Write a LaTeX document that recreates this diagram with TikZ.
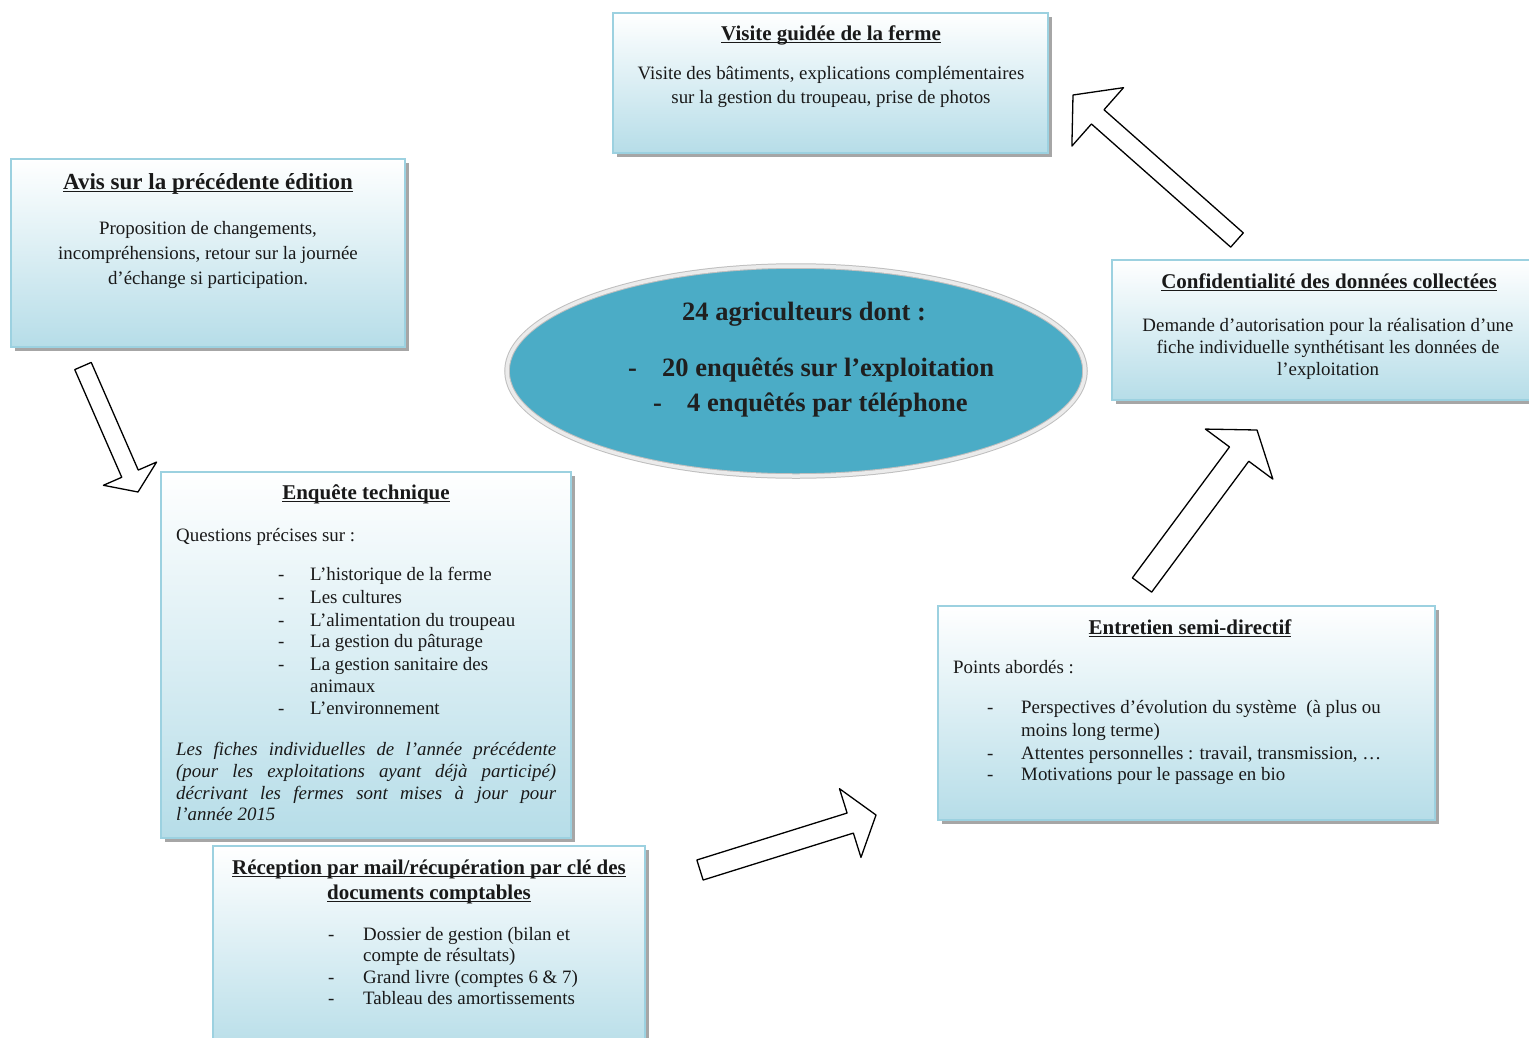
\documentclass[tikz,border=0pt]{standalone}
\usepackage{fontspec}
\setmainfont{Liberation Serif}
\usetikzlibrary{calc,shadows,shapes.geometric}
\definecolor{boxbot}{HTML}{B6DDE8}
\definecolor{boxline}{HTML}{9CD1E0}
\definecolor{ellfill}{HTML}{4BACC6}
\newcommand\ulx[1]{\setbox0\hbox{#1}\rlap{\rule[-3.4pt]{\wd0}{1.5pt}}\box0}
\newcommand\blockarrow[5]{%
  \coordinate (hb) at ($(#2)!#5!(#1)$);
  \draw[arrowline] ($(#1)!#3!90:(#2)$) -- ($(hb)!#3!-90:(#1)$) -- ($(hb)!#4!-90:(#1)$)
    -- (#2) -- ($(hb)!#4!90:(#1)$) -- ($(hb)!#3!90:(#1)$) -- ($(#1)!#3!-90:(#2)$) -- cycle;}
\tikzset{
  infobox/.style={draw=boxline, line width=1.4pt, top color=white, bottom color=boxbot,
    inner sep=0pt, drop shadow={shadow xshift=3.5pt, shadow yshift=-3.5pt, fill=black!35, opacity=1}},
  ttl/.style={font=\fontsize{21}{24}\selectfont\bfseries, anchor=base, inner sep=0pt, text=black!90},
  bdy/.style={font=\fontsize{18.9}{22}\selectfont, anchor=base, inner sep=0pt, text=black!90},
  bdyl/.style={bdy, anchor=base west},
  itl/.style={bdyl, font=\fontsize{18.9}{22}\selectfont\itshape},
  ell/.style={font=\fontsize{26.5}{30}\selectfont\bfseries, anchor=base, inner sep=0pt, text=black!88},
  elll/.style={ell, anchor=base west},
  arrowline/.style={draw=black, line width=1.3pt, fill=white, line join=round},
}
\begin{document}
\begin{tikzpicture}[x=1pt,y=-1pt]
\useasboundingbox (0,0) rectangle (1529,1037);
\begin{scope}
\clip (0,0) rectangle (1529,1037);

% boxes
\node[infobox, minimum width=435pt, minimum height=140pt] (visite) at (830.5,83) {};
\node[infobox, minimum width=394pt, minimum height=188pt] (avis) at (208,253) {};
\node[infobox, minimum width=434pt, minimum height=140pt] (conf) at (1329,330) {};
\node[infobox, minimum width=410pt, minimum height=366pt] (enq) at (366,655) {};
\node[infobox, minimum width=432pt, minimum height=210pt] (recep) at (429,951) {};
\node[infobox, minimum width=497pt, minimum height=214pt] (entr) at (1186.5,713) {};

% ellipse
\node[ellipse, fill=ellfill, draw=black!25, line width=1pt, double=white!92!black,
  double distance=3.5pt, minimum width=578pt, minimum height=210pt, inner sep=0pt] (ell) at (796,371) {};

% Visite
\node[ttl] (visiteT) at (831,40) {\ulx{Visite guidée de la ferme}};
\node[bdy] at (831,79) {Visite des bâtiments, explications complémentaires};
\node[bdy] at (831,103) {sur la gestion du troupeau, prise de photos};

% Avis
\node[ttl, font=\fontsize{23}{26}\selectfont\bfseries] (avisT) at (208,189) {\ulx{Avis sur la précédente édition}};
\node[bdy] at (208,234) {Proposition de changements,};
\node[bdy] at (208,259) {incompréhensions, retour sur la journée};
\node[bdy] at (208,284) {d’échange si participation.};

% Confidentialite
\node[ttl] (confT) at (1329,288) {\ulx{Confidentialité des données collectées}};
\node[bdy] at (1328,331) {Demande d’autorisation pour la réalisation d’une};
\node[bdy] at (1328,353) {fiche individuelle synthétisant les données de};
\node[bdy] at (1328,375) {l’exploitation};

% Enquete
\node[ttl] (enqT) at (366,499) {\ulx{Enquête technique}};
\node[bdyl] at (176,541) {Questions précises sur :};
\node[bdyl] at (278,580) {-};
\node[bdyl] at (310,580) {L’historique de la ferme};
\node[bdyl] at (278,603) {-};
\node[bdyl] at (310,603) {Les cultures};
\node[bdyl] at (278,626) {-};
\node[bdyl] at (310,626) {L’alimentation du troupeau};
\node[bdyl] at (278,647) {-};
\node[bdyl] at (310,647) {La gestion du pâturage};
\node[bdyl] at (278,670) {-};
\node[bdyl] at (310,670) {La gestion sanitaire des};
\node[bdyl] at (310,692) {animaux};
\node[bdyl] at (278,714) {-};
\node[bdyl] at (310,714) {L’environnement};
\node[itl] at (176,755) {\makebox[380pt][s]{Les fiches individuelles de l’année précédente}};
\node[itl] at (176,777) {\makebox[380pt][s]{(pour les exploitations ayant déjà participé)}};
\node[itl] at (176,799) {\makebox[380pt][s]{décrivant les fermes sont mises à jour pour}};
\node[itl] at (176,820) {l’année 2015};

% Reception
\node[ttl] (recepT) at (429,874) {\ulx{Réception par mail/récupération par clé des}};
\node[ttl] at (429,899) {\ulx{documents comptables}};
\node[bdyl] at (328,940) {-};
\node[bdyl] at (363,940) {Dossier de gestion (bilan et};
\node[bdyl] at (363,961) {compte de résultats)};
\node[bdyl] at (328,983) {-};
\node[bdyl] at (363,983) {Grand livre (comptes 6 \& 7)};
\node[bdyl] at (328,1004) {-};
\node[bdyl] at (363,1004) {Tableau des amortissements};

% Entretien
\node[ttl] (entrT) at (1190,634) {\ulx{Entretien semi-directif}};
\node[bdyl] at (953,673) {Points abordés :};
\node[bdyl] at (987,713) {-};
\node[bdyl] at (1021,713) {Perspectives d’évolution du système\ \ (à plus ou};
\node[bdyl] at (1021,736) {moins long terme)};
\node[bdyl] at (987,759) {-};
\node[bdyl] at (1021,759) {Attentes personnelles : travail, transmission, …};
\node[bdyl] at (987,780) {-};
\node[bdyl] at (1021,780) {Motivations pour le passage en bio};

% Ellipse text
\node[ell] at (804,320) {24 agriculteurs dont :};
\node[elll] at (628,376) {-};
\node[elll] at (662,376) {20 enquêtés sur l’exploitation};
\node[elll] at (653,411) {-};
\node[elll] at (687,411) {4 enquêtés par téléphone};

% block arrows
\coordinate (a1t) at (83,366);   \coordinate (a1h) at (138,492);
\coordinate (a2t) at (700,870);  \coordinate (a2h) at (876,815);
\coordinate (a3t) at (1142,585); \coordinate (a3h) at (1257,430);
\coordinate (a4t) at (1237,240); \coordinate (a4h) at (1073,95);
\blockarrow{a1t}{a1h}{9pt}{29pt}{20pt}
\blockarrow{a2t}{a2h}{10.5pt}{36pt}{27pt}
\blockarrow{a3t}{a3h}{12pt}{42pt}{30pt}
\blockarrow{a4t}{a4h}{9.5pt}{39pt}{33pt}
\end{scope}
\end{tikzpicture}
\end{document}
